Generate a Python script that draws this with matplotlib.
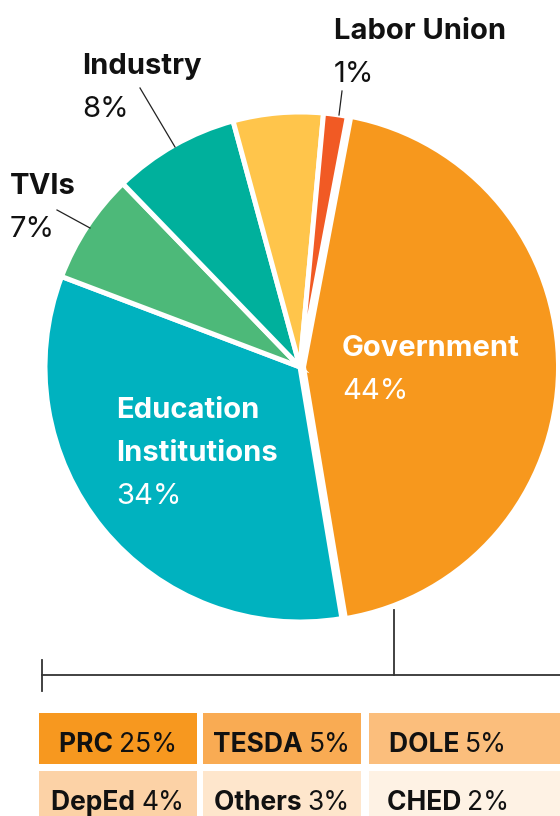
import matplotlib

matplotlib.use("Agg")
import matplotlib.pyplot as plt
from matplotlib.patches import Rectangle

W, H = 560, 816

sectors = ["Government", "Education\nInstitutions", "TVIs", "Industry", "Other", "Labor Union"]
# slice sizes (labels are the rounded values)
shares = [44.4, 33.4, 7, 8, 5.7, 1.5]
share_labels = ["44%", "34%", "7%", "8%", "", "1%"]
sector_colors = ["#F7981D", "#00B2BF", "#4DB979", "#00B09C", "#FFC54B", "#F15A24"]

gov_agencies = ["PRC", "TESDA", "DOLE", "DepEd", "Others", "CHED"]
gov_shares = ["25%", "5%", "5%", "4%", "3%", "2%"]
gov_colors = ["#F7981F", "#F9AB53", "#FBBE7C", "#FCD2A6", "#FEE6CC", "#FEF2E4"]

FONT = "Inter"
INK = "#111111"


def Y(y):
    return H - y


def label(ax, x, y, name, pct, color, leader=None):
    lines = name.split("\n")
    for i, line in enumerate(lines):
        ax.text(x, Y(y + 43 * i), line, color=color, fontsize=21,
                fontweight="bold", family=FONT, va="baseline", ha="left")
    ax.text(x, Y(y + 43 * len(lines)), pct, color=color, fontsize=21,
            fontweight="normal", family=FONT, va="baseline", ha="left")
    if leader:
        (x0, y0), (x1, y1) = leader
        ax.plot([x0, x1], [Y(y0), Y(y1)], color="#222222", lw=0.9)


def main():
    fig = plt.figure(figsize=(W / 100, H / 100), dpi=100)
    ax = fig.add_axes([0, 0, 1, 1])
    ax.set_xlim(0, W)
    ax.set_ylim(0, H)

    ax.pie(shares, colors=sector_colors, radius=255, center=(300, Y(367)),
           startangle=79.3, counterclock=False, explode=[3.5, 0, 0, 0, 0, 0],
           wedgeprops={"edgecolor": "white", "linewidth": 3.6}, frame=True)

    label(ax, 342, 356, sectors[0], share_labels[0], "white")
    label(ax, 116, 418, sectors[1], share_labels[1], "white")
    label(ax, 10, 194, sectors[2], share_labels[2], INK, leader=((57, 210), (90, 228)))
    label(ax, 82, 74, sectors[3], share_labels[3], INK, leader=((140, 88), (175, 147)))
    label(ax, 334, 39, sectors[5], share_labels[5], INK, leader=((342, 91), (339, 115)))

    # bracket pointing to the government slice
    ax.plot([394, 394], [Y(610), Y(675)], color="#333333", lw=1.3)
    ax.plot([42, W + 5], [Y(675), Y(675)], color="#333333", lw=1.3)
    ax.plot([42, 42], [Y(660), Y(691)], color="#333333", lw=1.3)

    col_x = [39, 203, 369]
    row_y = [713, 771]
    box_w, box_h = 158, 51
    renderer = fig.canvas.get_renderer()
    for i, (agency, share, color) in enumerate(zip(gov_agencies, gov_shares, gov_colors)):
        row, col = divmod(i, 3)
        x0, y0 = col_x[col], row_y[row]
        width = box_w if col < 2 else W - x0 + 10
        ax.add_patch(Rectangle((x0, Y(y0 + box_h)), width, box_h,
                               facecolor=color, edgecolor="none"))
        name = ax.text(0, Y(y0 + 39), agency + " ", ha="left", va="baseline",
                       fontsize=19, fontweight="bold", family=FONT, color=INK)
        pct = ax.text(0, Y(y0 + 39), share, ha="left", va="baseline",
                      fontsize=19, fontweight="normal", family=FONT, color=INK)
        w1 = name.get_window_extent(renderer).width
        w2 = pct.get_window_extent(renderer).width
        left = x0 + box_w / 2 - (w1 + w2) / 2
        name.set_x(left)
        pct.set_x(left + w1)

    ax.axis("off")
    fig.savefig("out.png", dpi=100)
    plt.close(fig)


if __name__ == "__main__":
    main()
